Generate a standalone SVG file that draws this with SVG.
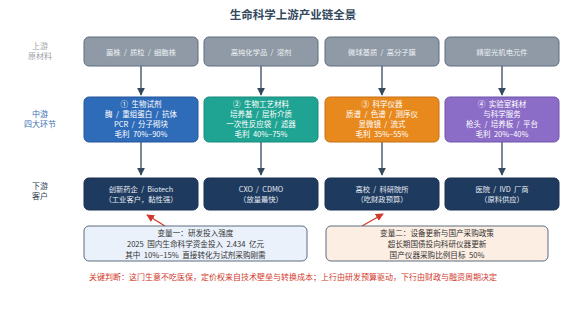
<svg xmlns="http://www.w3.org/2000/svg" width="586" height="311" viewBox="0 0 586 311">
<defs>
<style>
text{font-family:"Noto Sans CJK SC","Noto Sans",sans-serif;text-anchor:middle;white-space:pre}
.t{font-size:11.5px;font-weight:bold;fill:#34495e}
.lbl{font-size:8px}
.up rect{fill:#8f9aa6;stroke:#5d6d7e;stroke-width:1}
.up text{fill:#eef1f4;font-size:7.3px}
.mid text{fill:#ffffff;font-size:7.5px}
.down rect{fill:#1f3a5f;stroke:#1a3050;stroke-width:1}
.down text{fill:#e6ecf3;font-size:7.3px}
.var text{fill:#333333;font-size:7.6px}
.conn line{stroke:#34495e;stroke-width:1.3}
.red line{stroke:#d0382b;stroke-width:1.3}
</style>
<marker id="ah" viewBox="0 0 10 10" refX="9" refY="5" markerWidth="6" markerHeight="6" orient="auto"><path d="M0,0 L10,5 L0,10 z" fill="#34495e"/></marker>
<marker id="ar" viewBox="0 0 10 10" refX="9" refY="5" markerWidth="6" markerHeight="6" orient="auto"><path d="M0,0 L10,5 L0,10 z" fill="#d0382b"/></marker>
</defs>
<rect width="586" height="311" fill="#ffffff"/>
<text class="t" x="293" y="19">生命科学上游产业链全景</text>

<g id="labels">
<text class="lbl" x="40" y="48.5" fill="#a0a4a8">上游</text>
<text class="lbl" x="40" y="59" fill="#a0a4a8">原材料</text>
<text class="lbl" x="40" y="116.5" fill="#3b6fb6">中游</text>
<text class="lbl" x="40" y="127" fill="#3b6fb6">四大环节</text>
<text class="lbl" x="40" y="188.5" fill="#2c3e50">下游</text>
<text class="lbl" x="40" y="199" fill="#2c3e50">客户</text>
</g>

<g id="connectors">
<g class="conn">
<line x1="141" y1="66" x2="141" y2="95" marker-end="url(#ah)"/>
<line x1="261" y1="66" x2="261" y2="95" marker-end="url(#ah)"/>
<line x1="382" y1="66" x2="382" y2="95" marker-end="url(#ah)"/>
<line x1="502" y1="66" x2="502" y2="95" marker-end="url(#ah)"/>
<line x1="141" y1="142" x2="141" y2="175" marker-end="url(#ah)"/>
<line x1="261" y1="142" x2="261" y2="175" marker-end="url(#ah)"/>
<line x1="382" y1="142" x2="382" y2="175" marker-end="url(#ah)"/>
<line x1="502" y1="142" x2="502" y2="175" marker-end="url(#ah)"/>
</g>
<g class="red">
<line x1="165" y1="226" x2="147" y2="215" marker-end="url(#ar)"/>
<line x1="362" y1="226" x2="383" y2="214" marker-end="url(#ar)"/>
</g>
</g>

<g id="up1" class="up"><rect x="84" y="37" width="114" height="29" rx="5"/><text x="141" y="54.5">菌株  /  质粒  /  细胞株</text></g>
<g id="up2" class="up"><rect x="204" y="37" width="114" height="29" rx="5"/><text x="261" y="54.5">高纯化学品  /  溶剂</text></g>
<g id="up3" class="up"><rect x="325" y="37" width="114" height="29" rx="5"/><text x="382" y="54.5">微球基质  /  高分子膜</text></g>
<g id="up4" class="up"><rect x="445" y="37" width="114" height="29" rx="5"/><text x="502" y="54.5">精密光机电元件</text></g>

<g id="mid1" class="mid"><rect x="84" y="97" width="114" height="45" rx="5" fill="#2e6bb8" stroke="#24579a"/>
<text x="141" y="107">①  生物试剂</text><text x="141" y="117">酶  /  重组蛋白  /  抗体</text><text x="141" y="127">PCR  /  分子砌块</text><text x="141" y="137">毛利  70%–90%</text></g>
<g id="mid2" class="mid"><rect x="204" y="97" width="114" height="45" rx="5" fill="#1fa493" stroke="#178a7b"/>
<text x="261" y="107">②  生物工艺材料</text><text x="261" y="117">培养基  /  层析介质</text><text x="261" y="127">一次性反应袋  /  滤器</text><text x="261" y="137">毛利  40%–75%</text></g>
<g id="mid3" class="mid"><rect x="325" y="97" width="114" height="45" rx="5" fill="#e8891e" stroke="#c47116"/>
<text x="382" y="107">③  科学仪器</text><text x="382" y="117">质谱  /  色谱  /  测序仪</text><text x="382" y="127">显微镜  /  流式</text><text x="382" y="137">毛利  35%–55%</text></g>
<g id="mid4" class="mid"><rect x="445" y="97" width="114" height="45" rx="5" fill="#8b6cc6" stroke="#6f55a8"/>
<text x="502" y="107">④  实验室耗材</text><text x="502" y="117">与科学服务</text><text x="502" y="127">枪头  /  培养板  /  平台</text><text x="502" y="137">毛利  20%–40%</text></g>

<g id="down1" class="down"><rect x="84" y="178" width="114" height="32" rx="5"/><text x="141" y="192">创新药企  /  Biotech</text><text x="141" y="202">（工业客户，黏性强）</text></g>
<g id="down2" class="down"><rect x="204" y="178" width="114" height="32" rx="5"/><text x="261" y="192">CXO  /  CDMO</text><text x="261" y="202">（放量最快）</text></g>
<g id="down3" class="down"><rect x="325" y="178" width="114" height="32" rx="5"/><text x="382" y="192">高校  /  科研院所</text><text x="382" y="202">（吃财政预算）</text></g>
<g id="down4" class="down"><rect x="445" y="178" width="114" height="32" rx="5"/><text x="502" y="192">医院  /  IVD  厂商</text><text x="502" y="202">（原料供应）</text></g>

<g id="var1" class="var"><rect x="84" y="226" width="223" height="35" rx="5" fill="#eaf1fb" stroke="#5d6d7e"/>
<text x="195.5" y="236">变量一：研发投入强度</text><text x="195.5" y="247">2025  国内生命科学资金投入  2.434  亿元</text><text x="195.5" y="257.5">其中  10%–15%  直接转化为试剂采购刚需</text></g>
<g id="var2" class="var"><rect x="326" y="226" width="222" height="35" rx="5" fill="#fdeee3" stroke="#5d6d7e"/>
<text x="437" y="236">变量二：设备更新与国产采购政策</text><text x="437" y="247">超长期国债投向科研仪器更新</text><text x="437" y="257.5">国产仪器采购比例目标  50%</text></g>

<text x="293" y="280" fill="#d0382b" style="font-size:8px">关键判断：这门生意不吃医保，定价权来自技术壁垒与转换成本；上行由研发预算驱动，下行由财政与融资周期决定</text>
</svg>
